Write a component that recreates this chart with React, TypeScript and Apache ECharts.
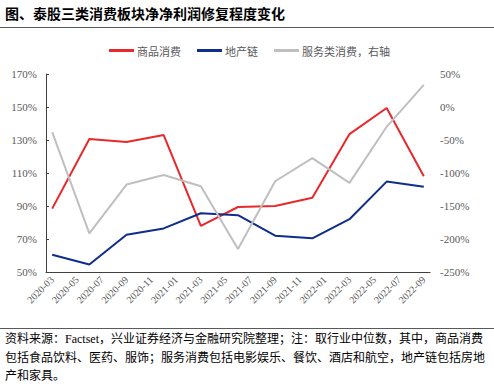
import React, { useEffect, useRef } from "react";
import * as echarts from "echarts";

const months = [
  "2020-03", "2020-04", "2020-05", "2020-06", "2020-07", "2020-08", "2020-09", "2020-10",
  "2020-11", "2020-12", "2021-01", "2021-02", "2021-03", "2021-04", "2021-05", "2021-06",
  "2021-07", "2021-08", "2021-09", "2021-10", "2021-11", "2021-12", "2022-01", "2022-02",
  "2022-03", "2022-04", "2022-05", "2022-06", "2022-07", "2022-08", "2022-09",
];
const quarters = [
  "2020-03", "2020-06", "2020-09", "2020-12", "2021-03", "2021-06",
  "2021-09", "2021-12", "2022-03", "2022-06", "2022-09",
];
const goods = [88.4, 130.6, 128.8, 133, 78, 89.4, 90, 95, 133.6, 149.4, 108];
const property = [60.4, 54.6, 72.6, 76.4, 85.6, 84.4, 72, 70.4, 82, 104.8, 101.6];
const services = [-38, -191.5, -117.5, -103, -120, -215, -112.5, -77.5, -115, -30, 33.5];

const seriesNames = ["商品消费", "地产链", "服务类消费，右轴"];
const leftMin = 50;
const leftMax = 170;
const leftStep = 20;
const rightMin = -250;
const rightMax = 50;
const rightStep = 50;

const title = "图、泰股三类消费板块净净利润修复程度变化";
const noteLines = [
  "资料来源：Factset，兴业证券经济与金融研究院整理；注：取行业中位数，其中，商品消费",
  "包括食品饮料、医药、服饰；服务消费包括电影娱乐、餐饮、酒店和航空，地产链包括房地",
  "产和家具。",
];

function toMonthly(vals: number[], offset: number) {
  return months.map((m) => {
    const i = quarters.indexOf(m);
    return i >= 0 ? vals[i] - offset : null;
  });
}

const CJK = "Liberation Serif, Noto Sans CJK SC";

export default function App() {
  const ref = useRef<HTMLDivElement>(null);
  useEffect(() => {
    if (!ref.current) return;
    const chart = echarts.init(ref.current, undefined, { renderer: "svg" });
    chart.setOption({
      animation: false,
      backgroundColor: "#ffffff",
      graphic: [
        {
          type: "text",
          left: 5,
          top: 6,
          style: { text: title, fontSize: 14, fontWeight: "bold", fill: "#000", fontFamily: "Noto Sans CJK SC" },
        },
        { type: "line", shape: { x1: 0, y1: 27.5, x2: 494, y2: 27.5 }, style: { stroke: "#595959", lineWidth: 1 } },
        { type: "line", shape: { x1: 0, y1: 328.5, x2: 494, y2: 328.5 }, style: { stroke: "#595959", lineWidth: 1 } },
        ...noteLines.map((t, i) => ({
          type: "text",
          left: 5,
          top: 333 + i * 18.5,
          style: { text: t, fontSize: 12, fill: "#000", fontFamily: CJK },
        })),
      ],
      legend: {
        top: 40,
        left: 104,
        icon: "rect",
        itemWidth: 25,
        itemHeight: 3,
        itemGap: 16,
        textStyle: { fontSize: 11, color: "#595959", fontFamily: "Noto Sans CJK SC", padding: [0, 0, 0, -2] },
        data: seriesNames,
      },
      grid: { left: 46, right: 64, top: 74, bottom: 116, containLabel: false },
      xAxis: {
        type: "category",
        data: months,
        boundaryGap: true,
        axisLine: { lineStyle: { color: "#404040", width: 1 } },
        axisTick: { interval: 1, inside: true, length: 3, lineStyle: { color: "#404040" } },
        axisLabel: {
          interval: 1,
          rotate: 45,
          fontSize: 10,
          color: "#595959",
          fontFamily: "Liberation Serif",
          margin: 6,
        },
        splitLine: { show: false },
      },
      yAxis: [
        {
          type: "value",
          min: 0,
          max: leftMax - leftMin,
          interval: leftStep,
          axisLine: { show: true, lineStyle: { color: "#404040", width: 1 } },
          axisTick: { show: true, inside: true, length: 3, lineStyle: { color: "#404040" } },
          axisLabel: {
            formatter: (v: number) => `${v + leftMin}%`,
            fontSize: 11,
            color: "#595959",
            fontFamily: "Liberation Serif",
            margin: 9,
          },
          splitLine: { show: false },
        },
        {
          type: "value",
          position: "right",
          min: rightMin,
          max: rightMax,
          interval: rightStep,
          axisLine: { show: false },
          axisTick: { show: false },
          axisLabel: {
            formatter: "{value}%",
            fontSize: 11,
            color: "#595959",
            fontFamily: "Liberation Serif",
            margin: 10,
          },
          splitLine: { show: false },
        },
      ],
      series: [
        {
          name: seriesNames[0],
          type: "line",
          yAxisIndex: 0,
          data: toMonthly(goods, leftMin),
          connectNulls: true,
          showSymbol: false,
          symbol: "none",
          itemStyle: { color: "#E8282B" },
          lineStyle: { color: "#E8282B", width: 2 },
        },
        {
          name: seriesNames[1],
          type: "line",
          yAxisIndex: 0,
          data: toMonthly(property, leftMin),
          connectNulls: true,
          showSymbol: false,
          symbol: "none",
          itemStyle: { color: "#0F2D8A" },
          lineStyle: { color: "#0F2D8A", width: 2 },
        },
        {
          name: seriesNames[2],
          type: "line",
          yAxisIndex: 1,
          data: toMonthly(services, 0),
          connectNulls: true,
          showSymbol: false,
          symbol: "none",
          itemStyle: { color: "#BFBFBF" },
          lineStyle: { color: "#BFBFBF", width: 2 },
        },
      ],
    });
    return () => chart.dispose();
  }, []);
  return (
    <div
      ref={ref}
      style={{ position: "fixed", left: 0, top: 0, width: 494, height: 388, background: "#fff" }}
    />
  );
}
